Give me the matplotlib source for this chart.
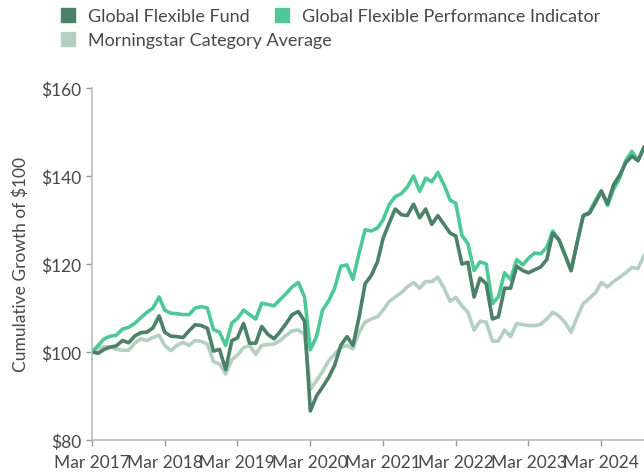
import numpy as np
import pandas as pd
import matplotlib
matplotlib.use("Agg")
import matplotlib.pyplot as plt
import matplotlib.dates as mdates
from matplotlib.lines import Line2D
from matplotlib.ticker import FuncFormatter

# Monthly cumulative growth of $100, Mar 2017 - Oct 2024
dates = pd.date_range("2017-03-01", "2024-10-01", freq="MS")

fund = [100, 99.7, 100.6, 101.1, 101.4, 102.6, 102.1, 103.6, 104.4, 104.5,
        105.5, 108.2, 104.5, 103.6, 103.5, 103.3, 104.8, 106.2, 106.0, 105.4,
        100.2, 100.6, 96.0, 102.6, 103.2, 106.5, 102.0, 102.0, 105.8, 104.0,
        103.0, 104.6, 106.5, 108.5, 109.2, 107.0, 86.6, 90.0, 92.0, 94.2,
        97.0, 101.5, 103.5, 101.5, 108.0, 115.5, 117.4, 120.5, 125.8, 129.3,
        132.5, 131.2, 131.0, 133.6, 130.5, 132.5, 129.0, 131.0, 129.0, 127.0,
        126.4, 120.0, 120.4, 112.5, 116.8, 115.5, 107.5, 108.0, 114.5, 114.5,
        119.5, 118.5, 118.0, 118.7, 119.3, 121.0, 127.0, 125.5, 122.0, 118.5,
        125.0, 131.0, 131.5, 134.0, 136.5, 133.7, 138.0, 140.2, 143.0, 144.5,
        143.5, 146.5]

indicator = [100, 101.5, 103.0, 103.6, 103.8, 105.2, 105.6, 106.5, 107.8, 109.0,
             110.0, 112.5, 109.5, 108.8, 108.7, 108.5, 108.5, 110.0, 110.3, 110.0,
             105.1, 104.5, 101.5, 106.6, 107.6, 109.5, 108.5, 107.5, 111.1, 110.8,
             110.5, 111.9, 113.3, 114.8, 115.8, 112.5, 100.5, 103.5, 109.5, 111.6,
             114.5, 119.5, 119.8, 116.5, 122.5, 127.8, 127.5, 128.2, 130.0, 133.5,
             135.3, 136.0, 137.5, 140.0, 136.5, 139.5, 138.7, 140.8, 138.0, 134.5,
             133.8, 126.5, 124.6, 118.5, 120.5, 120.0, 111.0, 112.5, 118.0, 116.5,
             121.0, 119.8, 121.3, 122.5, 122.3, 123.8, 127.5, 125.5, 122.0, 118.5,
             125.0, 131.0, 131.8, 134.5, 136.7, 133.3, 137.0, 139.5, 143.5, 145.6,
             143.5, 146.5]

category = [100, 100.8, 101.2, 101.2, 100.6, 100.4, 100.4, 102.0, 103.0, 102.6,
            103.3, 103.8, 101.5, 100.3, 101.5, 102.2, 101.5, 102.6, 102.4, 101.8,
            97.8, 97.3, 95.0, 98.2, 99.3, 101.0, 101.5, 99.5, 101.5, 101.7,
            101.8, 102.6, 103.8, 104.8, 105.0, 104.0, 91.5, 93.5, 95.5, 98.0,
            99.5, 101.0, 101.5, 100.7, 104.5, 106.8, 107.5, 108.0, 109.5, 111.5,
            112.5, 113.5, 114.8, 115.8, 114.5, 116.0, 116.0, 117.0, 114.5, 111.5,
            112.4, 110.5, 109.0, 105.0, 107.0, 106.8, 102.5, 102.5, 105.0, 103.5,
            106.5, 106.2, 106.0, 106.0, 106.3, 107.5, 109.0, 108.2, 106.7, 104.5,
            108.0, 111.0, 112.2, 113.5, 115.8, 114.8, 116.0, 117.0, 118.0, 119.2,
            119.0, 121.9]

labels = ["Global Flexible Fund", "Global Flexible Performance Indicator",
          "Morningstar Category Average"]
colors = ["#4b8069", "#4fc898", "#b4cfc3"]

plt.rcParams["font.family"] = ["Lato", "DejaVu Sans"]
text_color = "#484848"

fig = plt.figure(figsize=(6.44, 4.77), dpi=100)
ax = fig.add_axes([92 / 644, 1 - 441 / 477, 1 - 92 / 644, (441 - 89) / 477])

# draw category first so the fund lines sit on top
ax.plot(dates, category, color=colors[2], lw=2.6, solid_joinstyle="round")
ax.plot(dates, indicator, color=colors[1], lw=2.6, solid_joinstyle="round")
ax.plot(dates, fund, color=colors[0], lw=2.6, solid_joinstyle="round")

ax.set_ylim(80, 160)
ax.set_xlim(dates[0], dates[-1])
ax.set_yticks([80, 100, 120, 140, 160])
ax.yaxis.set_major_formatter(FuncFormatter(lambda v, p: f"${v:.0f}"))
ax.xaxis.set_major_locator(mdates.MonthLocator(bymonth=3, bymonthday=1))
ax.xaxis.set_major_formatter(mdates.DateFormatter("%b %Y"))

for s in ["top", "right"]:
    ax.spines[s].set_visible(False)
for s in ["left", "bottom"]:
    ax.spines[s].set_color("#bbbbbb")
    ax.spines[s].set_linewidth(1.2)
ax.tick_params(color="#999999", labelcolor=text_color, labelsize=12.5,
               length=4, width=1)
ax.tick_params(axis="x", pad=6)
ax.set_ylabel("Cumulative Growth of $100", fontsize=12.5, color=text_color,
              labelpad=9)

# legend flows like text: two items on the first row, one on the second
handles = [Line2D([], [], ls="none", marker="s", markersize=10,
                  color=c) for c in colors]
leg_kw = dict(loc="upper left", frameon=False, fontsize=13,
              labelcolor=text_color, handletextpad=0.75, handlelength=0.75,
              borderpad=0, borderaxespad=0, columnspacing=1.4)
fig.legend(handles[:2], labels[:2], ncol=2,
           bbox_to_anchor=(61 / 644, 1 - 9 / 477), **leg_kw)
fig.legend(handles[2:], labels[2:], ncol=1,
           bbox_to_anchor=(61 / 644, 1 - 33 / 477), **leg_kw)

fig.savefig("out.png", dpi=100)
